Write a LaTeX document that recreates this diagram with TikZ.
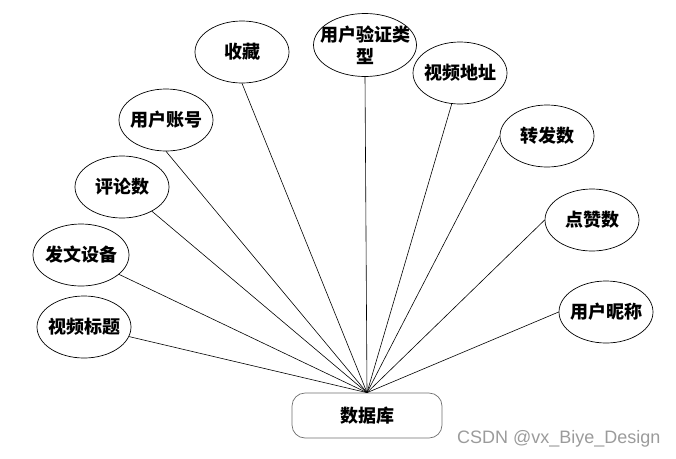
\documentclass[tikz,border=0pt]{standalone}
\usepackage{fontspec}
\usetikzlibrary{shapes.geometric}
\newfontfamily\cjk{Noto Sans CJK SC}
\newfontfamily\wmfont{Liberation Sans}
\definecolor{wmgray}{RGB}{155,155,155}
\definecolor{boxgray}{RGB}{110,110,110}
\newcommand{\zw}[1]{\makebox[0pt]{#1}}
\begin{document}
\begin{tikzpicture}[x=1pt,y=-1pt,
  cjktext/.style={font=\cjk\bfseries\fontsize{18}{22}\selectfont},
  attr/.style={cjktext, draw=black, line width=0.7pt, ellipse, inner sep=0pt, minimum width=94pt, minimum height=62pt},
  dbbox/.style={cjktext, draw=boxgray, line width=0.7pt, rounded corners=13pt, minimum width=150pt, minimum height=45pt, inner sep=0pt},
  link/.style={draw=black, line width=0.6pt},
  wm/.style={font=\wmfont\fontsize{18}{20}\selectfont, text=wmgray, inner sep=0pt, anchor=base west}]
\useasboundingbox (0,0) rectangle (676,458);
\node[attr] (shoucang) at (242,52) {\zw{收藏}};
\node[attr] (zhanghao) at (166,120) {\zw{用户账号}};
\node[attr] (pinglun) at (122,187) {\zw{评论数}};
\node[attr, minimum width=96pt] (shebei) at (81,255) {\zw{发文设备}};
\node[attr] (biaoti) at (84,327) {\zw{视频标题}};
\node[attr, minimum width=103pt, minimum height=63pt, align=center] (leixing) at (365,45) {\zw{用户验证类}\\\zw{型}};
\node[attr] (dizhi) at (460,73) {\zw{视频地址}};
\node[attr] (zhuanfa) at (547,136) {\zw{转发数}};
\node[attr] (dianzan) at (592,220) {\zw{点赞数}};
\node[attr] (nicheng) at (606,312) {\zw{用户昵称}};
\node[dbbox] (db) at (367,415.5) {数据库};
\draw[link] (db.north) -- (shoucang.south);
\draw[link] (db.north) -- (zhanghao.south);
\draw[link] (db.north) -- (pinglun.-39);
\draw[link] (db.north) -- (shebei.-27);
\draw[link] (db.north) -- (biaoti.-12);
\draw[link] (db.north) -- (leixing.south);
\draw[link] (db.north) -- (dizhi.-105);
\draw[link] (db.north) -- (zhuanfa.west);
\draw[link] (db.north) -- (dianzan.west);
\draw[link] (db.north) -- (nicheng.west);
\node[wm] (mark) at (457,443) {CSDN @vx\_Biye\_Design};
\end{tikzpicture}
\end{document}
